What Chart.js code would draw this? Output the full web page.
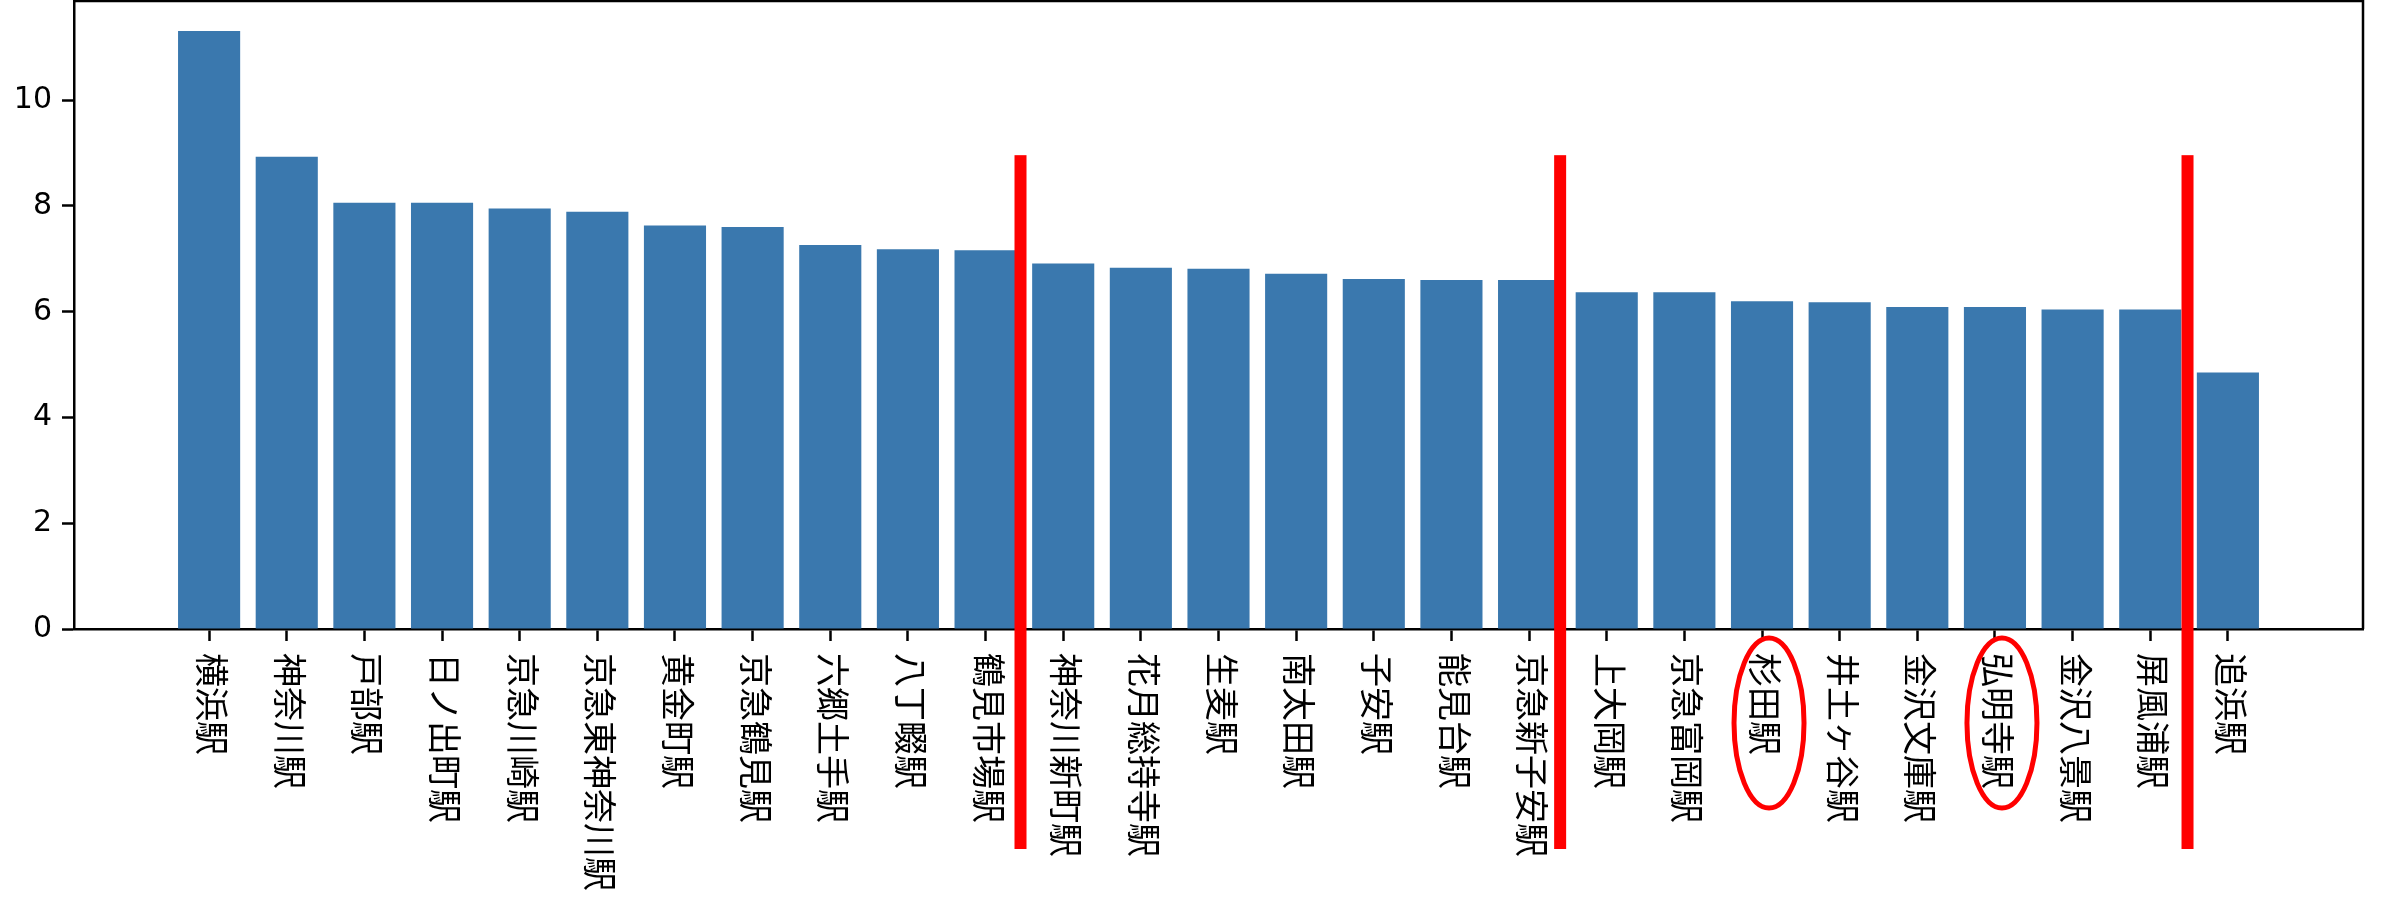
<!DOCTYPE html>
<html lang="ja">
<head>
<meta charset="utf-8">
<title>駅別グラフ</title>
<script src="https://cdn.jsdelivr.net/npm/chart.js@4/dist/chart.umd.min.js"></script>
<style>
  html, body { margin: 0; padding: 0; background: #fff; }
  #wrap { width: 2381px; height: 899px; }
</style>
</head>
<body>
<div id="wrap"><canvas id="station-chart" width="2381" height="899"></canvas></div>
<script>
// 駅ごとの値（降順）
const stations = [
  '横浜駅', '神奈川駅', '戸部駅', '日ノ出町駅', '京急川崎駅', '京急東神奈川駅', '黄金町駅',
  '京急鶴見駅', '六郷土手駅', '八丁畷駅', '鶴見市場駅', '神奈川新町駅', '花月総持寺駅', '生麦駅',
  '南太田駅', '子安駅', '能見台駅', '京急新子安駅', '上大岡駅', '京急富岡駅', '杉田駅',
  '井土ヶ谷駅', '金沢文庫駅', '弘明寺駅', '金沢八景駅', '屏風浦駅', '追浜駅',
];
const values = [
  11.31, 8.93, 8.06, 8.06, 7.95, 7.89, 7.63,
  7.60, 7.26, 7.18, 7.16, 6.91, 6.83, 6.81,
  6.72, 6.62, 6.60, 6.60, 6.37, 6.37, 6.20,
  6.18, 6.09, 6.09, 6.04, 6.04, 4.85,
];
const yTickValues = [0, 2, 4, 6, 8, 10];

// 赤い区切り線（カテゴリ位置）と丸で囲む駅
const dividerPositions = [10.45, 17.4, 25.48];
const dividerTopValue = 8.96;
const circledStations = ['杉田駅', '弘明寺駅'];

const BAR_COLOR = '#3a78ae';
const MARK_RED = '#ff0000';
const INK = '#000000';
const FONT = "'Noto Sans CJK JP', 'Noto Sans', sans-serif";
const NUM_FONT = "'DejaVu Sans', sans-serif";
const AXIS_WIDTH = 2.5;
const TICK_LEN = 12;

const yMax = Math.max(...values) * 1.05;
const xMin = -0.4 - (stations.length - 0.2) * 0.05;
const xMax = stations.length - 0.6 + (stations.length - 0.2) * 0.05;

// 上から下へ読むラベル、枠線、赤い注記
const overlayPlugin = {
  id: 'overlay',
  afterDraw(chart) {
    const { ctx, chartArea, scales } = chart;
    const xs = scales.x;
    const ys = scales.y;

    ctx.save();
    ctx.fillStyle = INK;
    ctx.font = `34px ${FONT}`;
    ctx.textAlign = 'left';
    ctx.textBaseline = 'middle';
    stations.forEach((name, i) => {
      ctx.save();
      ctx.translate(xs.getPixelForValue(i) + 3, chartArea.bottom + TICK_LEN + 12);
      ctx.rotate(Math.PI / 2);
      ctx.fillText(name, 0, 0);
      ctx.restore();
    });

    // 上と右の枠
    ctx.strokeStyle = INK;
    ctx.lineWidth = AXIS_WIDTH;
    ctx.beginPath();
    ctx.moveTo(chartArea.left, chartArea.top);
    ctx.lineTo(chartArea.right, chartArea.top);
    ctx.lineTo(chartArea.right, chartArea.bottom);
    ctx.stroke();

    // 赤い区切り線
    ctx.fillStyle = MARK_RED;
    const top = ys.getPixelForValue(dividerTopValue);
    dividerPositions.forEach((pos) => {
      const x = xs.getPixelForValue(pos);
      ctx.fillRect(x - 6, top, 12, chartArea.bottom + 220 - top);
    });

    // 赤い楕円
    ctx.strokeStyle = MARK_RED;
    ctx.lineWidth = 5;
    circledStations.forEach((name) => {
      const i = stations.indexOf(name);
      const cx = xs.getPixelForValue(i) + 7;
      ctx.beginPath();
      ctx.ellipse(cx, chartArea.bottom + 94, 35, 85, 0, 0, Math.PI * 2);
      ctx.stroke();
    });
    ctx.restore();
  },
};

new Chart(document.getElementById('station-chart'), {
  type: 'bar',
  data: {
    datasets: [{
      data: values.map((v, i) => ({ x: i, y: v })),
      backgroundColor: BAR_COLOR,
      borderWidth: 0,
      barPercentage: 1.0,
      categoryPercentage: 0.8,
    }],
  },
  options: {
    responsive: false,
    devicePixelRatio: 1,
    animation: false,
    layout: { padding: { top: 1, right: 18, left: 0, bottom: 0 } },
    plugins: {
      legend: { display: false },
      tooltip: { enabled: false },
    },
    scales: {
      x: {
        type: 'linear',
        offset: false,
        min: xMin,
        max: xMax,
        afterBuildTicks: (scale) => { scale.ticks = stations.map((_, i) => ({ value: i })); },
        afterFit: (scale) => {
          scale.height = 270;
          scale.paddingLeft = 0;
          scale.paddingRight = 0;
        },
        ticks: { display: false },
        grid: {
          display: true,
          offset: false,
          drawOnChartArea: false,
          drawTicks: true,
          tickLength: TICK_LEN,
          tickWidth: AXIS_WIDTH,
          tickColor: INK,
        },
        border: { display: true, color: INK, width: AXIS_WIDTH },
      },
      y: {
        min: 0,
        max: yMax,
        afterBuildTicks: (scale) => { scale.ticks = yTickValues.map((v) => ({ value: v })); },
        afterFit: (scale) => {
          scale.width = 74;
          scale.paddingTop = 0;
          scale.paddingBottom = 0;
        },
        ticks: {
          color: INK,
          padding: 10,
          font: { family: NUM_FONT, size: 30 },
        },
        grid: {
          display: true,
          drawOnChartArea: false,
          drawTicks: true,
          tickLength: TICK_LEN,
          tickWidth: AXIS_WIDTH,
          tickColor: INK,
        },
        border: { display: true, color: INK, width: AXIS_WIDTH },
      },
    },
  },
  plugins: [overlayPlugin],
});
</script>
</body>
</html>
